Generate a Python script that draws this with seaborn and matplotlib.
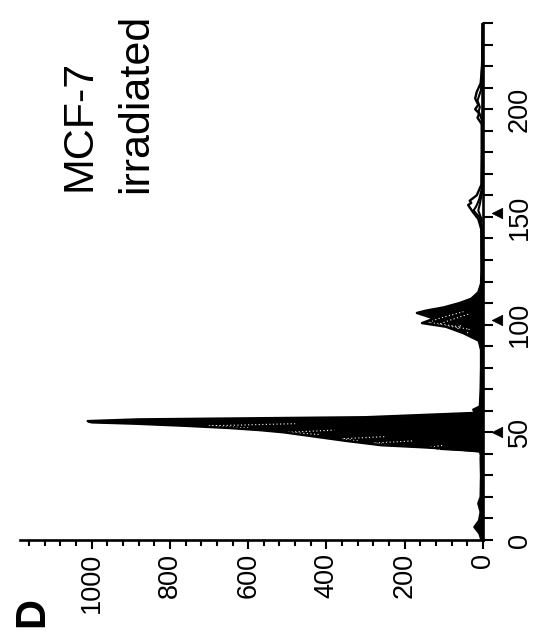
import numpy as np
import matplotlib
matplotlib.use("Agg")
import matplotlib.pyplot as plt
import seaborn as sns

# DNA content histograms (channel vs. cell count), overlaid samples.
# Sample A is the outermost profile; B-F lie inside it.
ch_a = [0, 3, 6, 9, 13, 17, 20, 30, 38, 41, 42, 43, 44, 46, 48, 50, 51, 52, 53, 54,
        54.6, 55.2, 56, 57, 59, 60.5, 62, 70, 80, 88, 92, 96, 99, 100.7, 102.8, 105.4,
        106.5, 108, 110, 112, 115, 119, 125, 135, 144, 149, 152, 155.5, 156.5, 157.5,
        160, 165, 180, 193, 196, 198, 200, 202, 205, 208, 212, 220, 240]
n_a = [4, 9, 22, 10, 6, 12, 6, 5, 6, 5, 60, 150, 260, 350, 430, 510, 570, 650, 760, 890,
       1000, 1010, 880, 300, 20, 25, 8, 6, 5, 5, 5, 50, 95, 156, 125, 169,
       145, 100, 60, 30, 12, 5, 4, 4, 4, 12, 25, 38, 30, 34,
       16, 4, 3, 3, 14, 10, 20, 12, 20, 16, 6, 2, 1]

ch_b = [0, 20, 42, 50, 52, 53, 54, 56, 60, 75, 92, 99, 101, 103, 106, 110, 116, 130,
        146, 150, 153, 155, 158, 163, 180, 195, 199, 201, 204, 209, 225, 240]
n_b = [3, 4, 5, 20, 600, 700, 480, 20, 6, 5, 5, 60, 140, 110, 50, 15, 5, 3,
       4, 10, 24, 17, 10, 3, 3, 3, 11, 8, 14, 5, 2, 1]

ch_c = [0, 20, 35, 45, 47, 49, 50, 51, 53, 58, 80, 92, 98, 100, 102, 105, 109, 120,
        149, 153, 156, 161, 240]
n_c = [3, 4, 5, 6, 20, 420, 500, 380, 20, 6, 4, 5, 40, 115, 85, 35, 10, 3,
       4, 12, 8, 3, 1]

ch_d = [0, 20, 40, 44, 46, 47, 48, 50, 60, 85, 96, 98, 100, 103, 110, 240]
n_d = [3, 4, 5, 20, 320, 360, 250, 20, 5, 4, 20, 65, 55, 25, 4, 1]

ch_e = [0, 20, 38, 42, 44, 45, 46, 48, 60, 85, 94, 96, 98, 101, 108, 240]
n_e = [3, 4, 5, 15, 240, 280, 180, 15, 5, 4, 15, 40, 35, 15, 3, 1]

ch_f = [0, 20, 38, 41, 42, 43, 44, 46, 60, 85, 92, 94, 96, 99, 106, 240]
n_f = [3, 4, 5, 10, 110, 140, 100, 10, 4, 4, 8, 22, 18, 8, 3, 1]

# peak position markers along the channel axis
marker_channels = [50, 102, 152]
marker_counts = [-36, -36, -36]

count_major = [0, 200, 400, 600, 800, 1000]
channel_labelled = [0, 50, 100, 150, 200]

FILL_LIMIT = 126  # populations below this channel are drawn solid

sns.set_theme(style="white")
plt.rcParams["font.family"] = ["Liberation Sans", "DejaVu Sans"]
plt.rcParams["text.color"] = "black"
plt.rcParams["xtick.color"] = "black"
plt.rcParams["ytick.color"] = "black"

fig = plt.figure(figsize=(5.51, 6.34), dpi=100)
ax = fig.add_axes([20 / 551, 1 - 540 / 634, 463 / 551, 517 / 634])

series = [(ch_a, n_a), (ch_b, n_b), (ch_c, n_c), (ch_d, n_d), (ch_e, n_e), (ch_f, n_f)]

# solid fill for the G1 / G2 populations
for ch, n in series:
    ch = np.asarray(ch, dtype=float)
    n = np.asarray(n, dtype=float)
    ax.fill_betweenx(ch, 0, n, where=ch <= FILL_LIMIT, color="black", lw=0, zorder=2)

# inner samples: white speckled traces inside the solid peaks,
# black outlines in the open region above FILL_LIMIT
for ch, n in series[1:]:
    ch = np.asarray(ch, dtype=float)
    n = np.asarray(n, dtype=float)
    inner = np.where((n > 30) & (ch < FILL_LIMIT), n, np.nan)
    ax.plot(inner, ch, color="white", lw=0.8, ls=(0, (1, 2.2)), zorder=3)
    tail = ch >= 120
    sns.lineplot(x=n[tail], y=ch[tail], orient="y", sort=False, estimator=None,
                 color="black", lw=1.5, ax=ax, zorder=4, legend=False)

# outer profile
sns.lineplot(x=n_a, y=ch_a, orient="y", sort=False, estimator=None, color="black",
             lw=1.7, ax=ax, zorder=4, legend=False)

sns.scatterplot(x=marker_counts, y=marker_channels, marker="<", s=55, color="black",
                edgecolor="black", clip_on=False, ax=ax, zorder=5, legend=False)

ax.set_xlim(1183, 0)
ax.set_ylim(0, 240)
ax.set_xlabel("")
ax.set_ylabel("")

for side in ("top", "left"):
    ax.spines[side].set_visible(False)
for side in ("bottom", "right"):
    ax.spines[side].set_color("black")
    ax.spines[side].set_linewidth(1.9)

ax.set_xticks(count_major)
ax.set_xticklabels([str(v) for v in count_major])
ax.set_xticks(list(range(0, 1161, 40)), minor=True)

ax.yaxis.tick_right()
ch_ticks = list(range(0, 241, 10))
ax.set_yticks(ch_ticks)
ax.set_yticklabels([str(v) if v in channel_labelled else "" for v in ch_ticks])

ax.tick_params(axis="x", which="major", direction="out", length=6.5, width=1.5,
               pad=2.5, labelsize=19.5, labelrotation=90, bottom=True)
ax.tick_params(axis="x", which="minor", direction="out", length=4, width=1.5,
               bottom=True)
ax.tick_params(axis="y", which="major", direction="out", length=7, width=1.5,
               pad=10, labelsize=19.5, labelrotation=90, right=True, left=False)
for lab in ax.get_yticklabels():
    lab.set_verticalalignment("center")

fig.text(90 / 551, 1 - 191 / 634, "MCF-7", rotation=90, rotation_mode="anchor",
         ha="left", va="baseline", fontsize=31)
fig.text(147 / 551, 1 - 193 / 634, "irradiated", rotation=90, rotation_mode="anchor",
         ha="left", va="baseline", fontsize=31)
fig.text(43 / 551, 1 - 627 / 634, "D", rotation=90, rotation_mode="anchor",
         ha="left", va="baseline", fontsize=30, fontweight="bold")

fig.savefig("out.png", dpi=100, facecolor="white")
